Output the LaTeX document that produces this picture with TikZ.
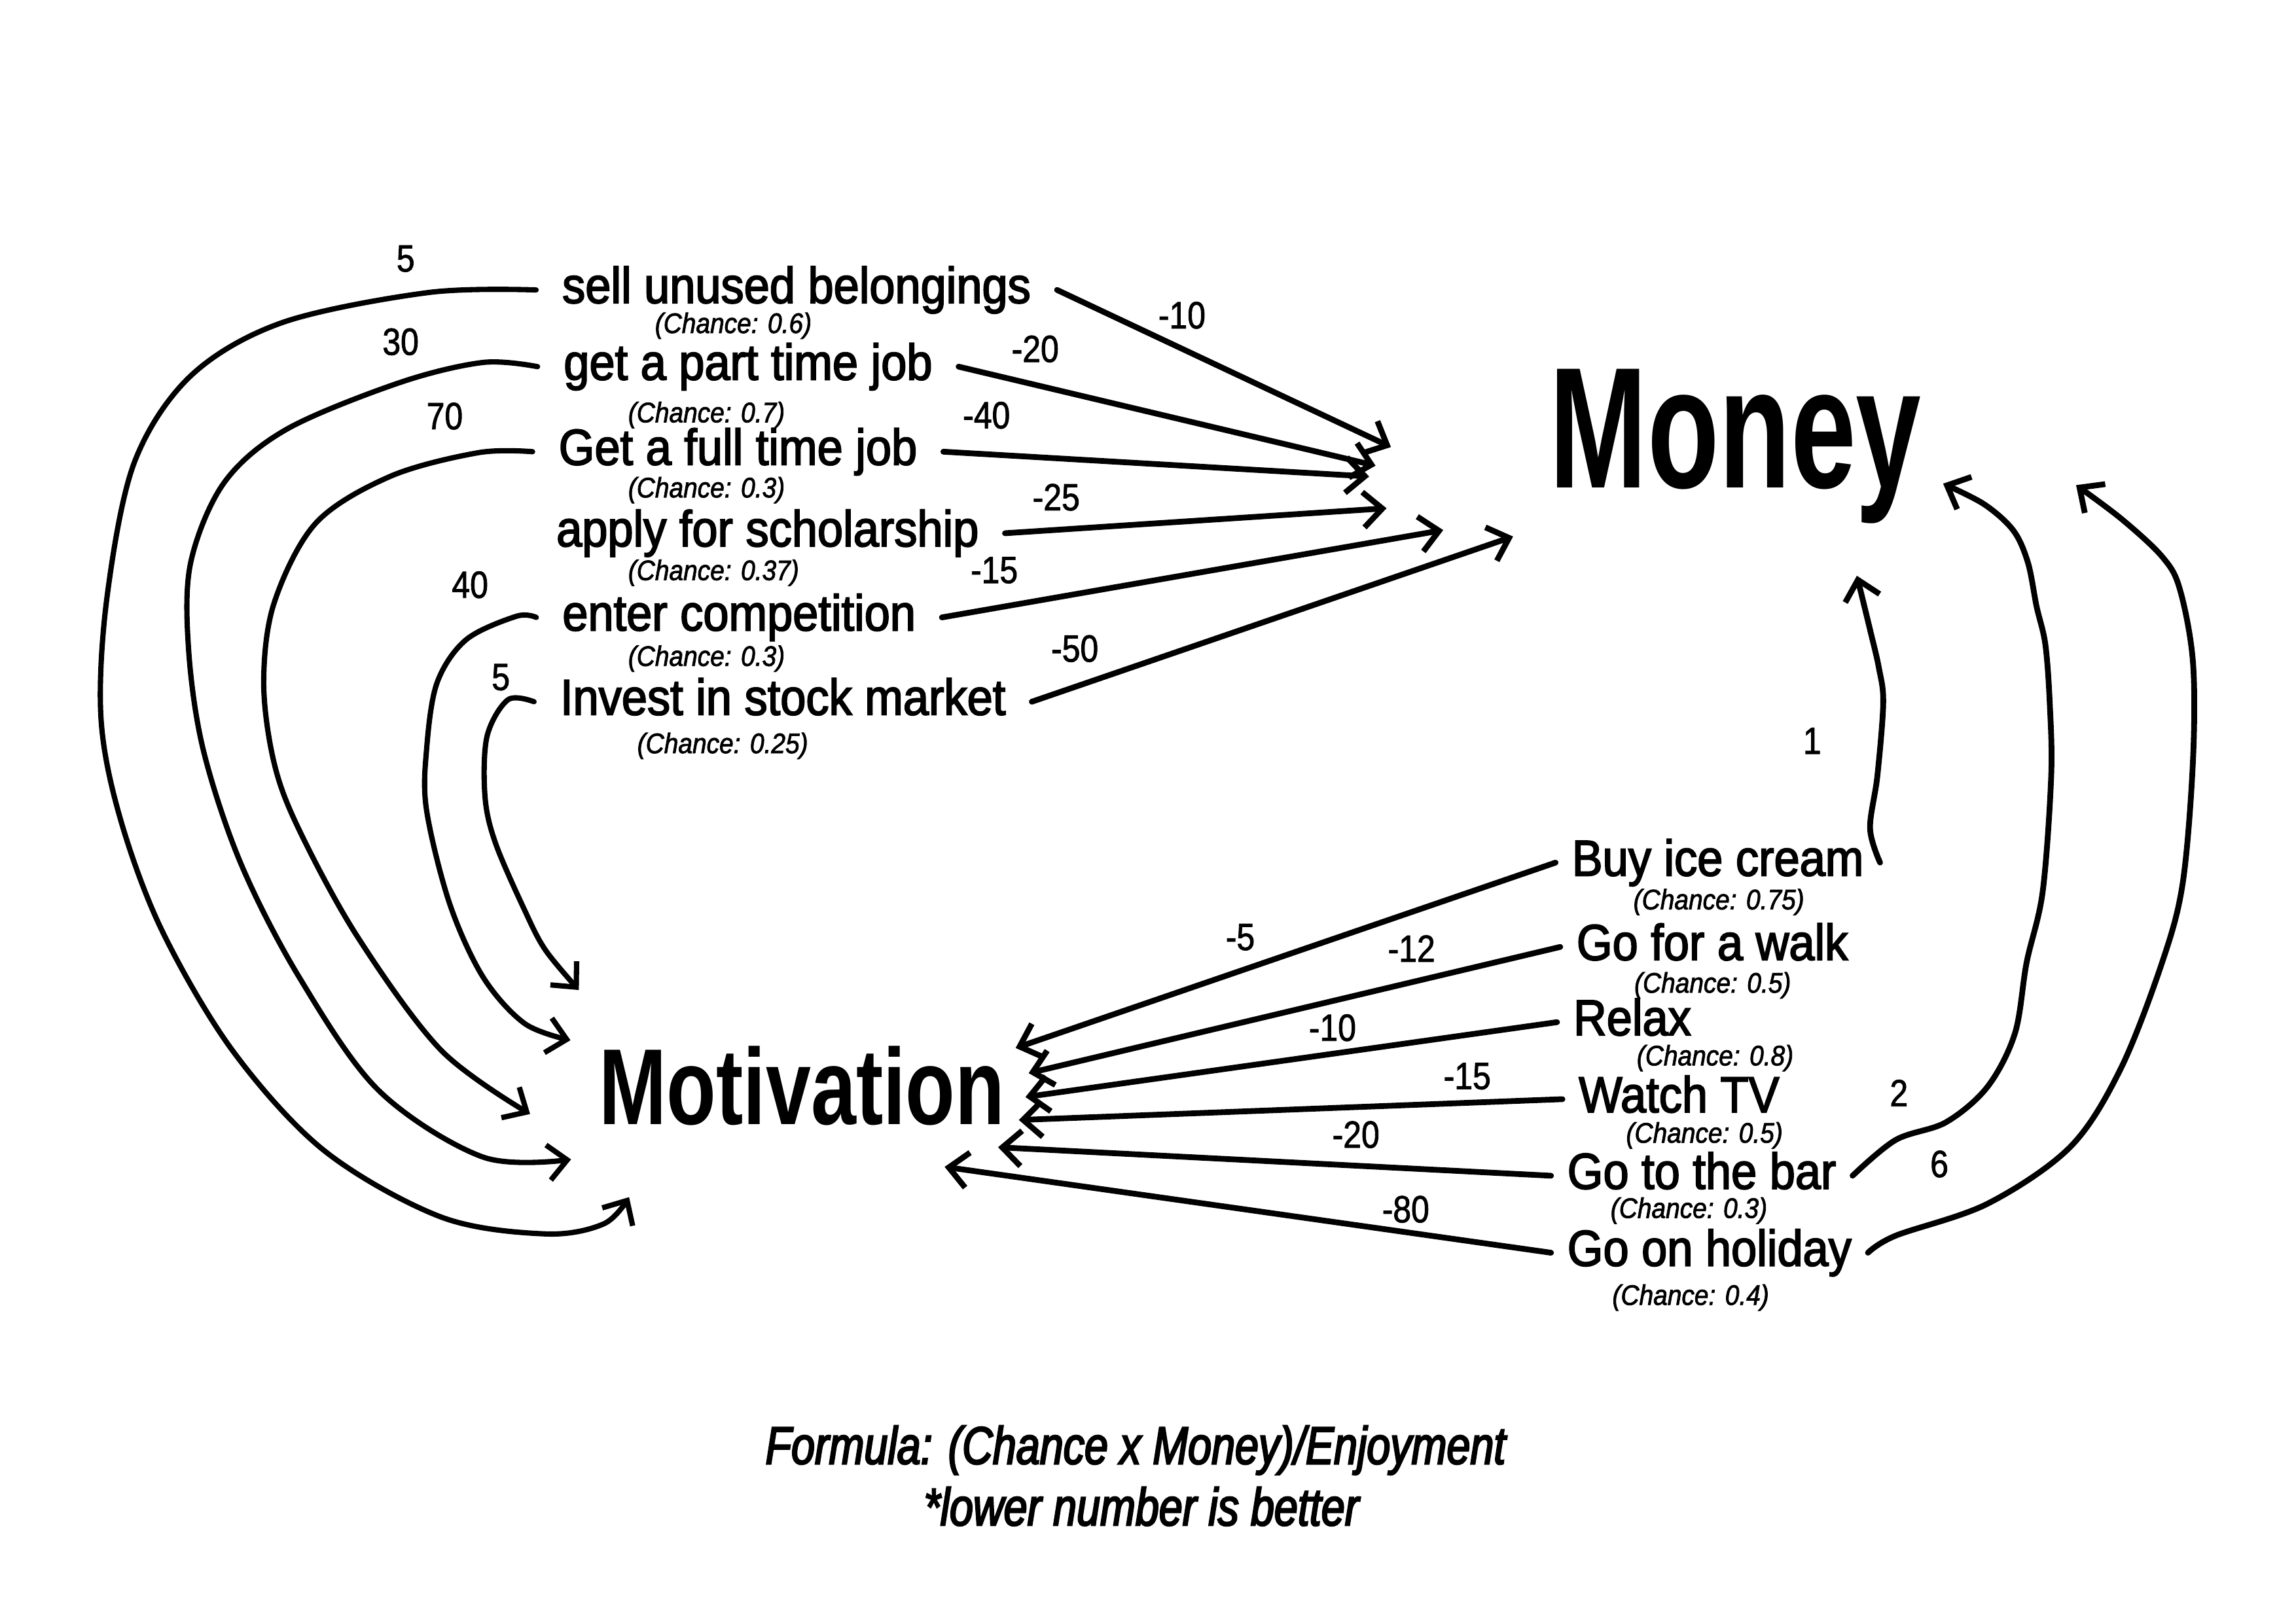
\documentclass[tikz,border=0pt]{standalone}
\usepackage{fontspec}
\setmainfont{Liberation Sans}
\newfontfamily\labf{Liberation Sans}[FakeStretch=0.91,FakeBold=2.5]
\newfontfamily\smallf{Liberation Sans}[FakeStretch=0.9,FakeBold=1.8]
\newfontfamily\numf{Liberation Sans}[FakeStretch=0.86,FakeBold=1.5]
\newfontfamily\monf{Liberation Sans}[FakeStretch=0.68]
\newfontfamily\motf{Liberation Sans}[FakeStretch=0.75]
\newfontfamily\formf{Liberation Sans}[FakeStretch=0.8,FakeBold=3]
\usetikzlibrary{arrows.meta}
\tikzset{
  conn/.style={line width=2.5pt, line cap=round, line join=round,
    -{Straight Barb[length=2.9mm,width=5.4mm]}},
  lconn/.style={conn, line width=2.3pt},
  lbl/.style={inner sep=0pt, anchor=base west, text height=5.6mm, text depth=1.6mm,
    font=\labf\fontsize{22pt}{26pt}\selectfont},
  lleft/.style={lbl, outer xsep=4mm, xshift=-4mm},
  lright/.style={lbl, outer xsep=2.5mm, xshift=-2.5mm},
  chance/.style={inner sep=0pt, anchor=base west, font=\smallf\itshape\fontsize{12.3pt}{14pt}\selectfont},
  num/.style={inner sep=0pt, anchor=base, font=\numf\fontsize{16.5pt}{18pt}\selectfont},
  formula/.style={inner sep=0pt, anchor=base, font=\formf\itshape\fontsize{23pt}{27pt}\selectfont}
}
\begin{document}
\begin{tikzpicture}[x=0.223724mm, y=-0.223724mm]
\useasboundingbox (0,0) rectangle (1568,1109);

% ---- left labels
\node[lleft] (sell)   at (384,207)   {sell unused belongings};
\node[chance] (csell) at (447,227.5) {(Chance: 0.6)};
\node[lleft] (part)   at (385,259.4) {get a part time job};
\node[chance] (cpart) at (428.7,288.5) {(Chance: 0.7)};
\node[lleft] (full)   at (381.6,317.5) {Get a full time job};
\node[chance] (cfull) at (428.7,339.8) {(Chance: 0.3)};
\node[lleft] (schol)  at (380,373.2) {apply for scholarship};
\node[chance] (cschol) at (428.7,396.3) {(Chance: 0.37)};
\node[lleft] (comp)   at (384.1,430.7) {enter competition};
\node[chance] (ccomp) at (428.7,454.9) {(Chance: 0.3)};
\node[lleft] (invest) at (382.6,488.3) {Invest in stock market};
\node[chance] (cinvest) at (434.9,514.5) {(Chance: 0.25)};

% ---- centres
\node[inner sep=0pt, anchor=base west, font=\monf\bfseries\fontsize{75pt}{80pt}\selectfont] (money) at (1058,333) {Money};
\node[inner sep=0pt, anchor=base west, font=\motf\bfseries\fontsize{47pt}{52pt}\selectfont] (motiv) at (409,768) {Motivation};

% ---- right labels
\node[lright] (ice)   at (1073.5,598.2) {Buy ice cream};
\node[chance] (cice)  at (1115.2,621.2) {(Chance: 0.75)};
\node[lright] (walk)  at (1076.7,655.8) {Go for a walk};
\node[chance] (cwalk) at (1115.8,678.1) {(Chance: 0.5)};
\node[lright] (relax) at (1074.5,707.2) {Relax};
\node[chance] (crelax) at (1117.5,727.8) {(Chance: 0.8)};
\node[lright] (tv)    at (1078.2,759.8) {Watch TV};
\node[chance] (ctv)   at (1110.2,780.6) {(Chance: 0.5)};
\node[lright] (bar)   at (1070.4,812.1) {Go to the bar};
\node[chance] (cbar)  at (1099.6,832) {(Chance: 0.3)};
\node[lright] (hol)   at (1070.4,864.7) {Go on holiday};
\node[chance] (chol)  at (1100.8,891.4) {(Chance: 0.4)};

% ---- formula
\node[formula] (f1) at (775.5,1000) {Formula: (Chance x Money)/Enjoyment};
\node[formula] (f2) at (779.5,1042) {*lower number is better};

% ---- arrow end points
\coordinate (m1) at (949.9,305.4);
\coordinate (m2) at (939.4,318.1);
\coordinate (m3) at (935,325.5);
\coordinate (m4) at (946.9,347.2);
\coordinate (m5) at (985.6,362.1);
\coordinate (m6) at (1033.3,366.5);
\coordinate (v1) at (693.6,715.9);
\coordinate (v2) at (702.5,733.1);
\coordinate (v3) at (700.3,749.4);
\coordinate (v4) at (695.8,765.1);
\coordinate (v5) at (681.6,783.7);
\coordinate (v6) at (645.1,797.1);
\coordinate (ts) at (429.6,817.8);
\coordinate (tp) at (390,792);
\coordinate (tf) at (362,761);
\coordinate (tc) at (389.6,710.6);
\coordinate (ti) at (395.3,676.3);
\coordinate (ri) at (1268.1,393.3);
\coordinate (rb) at (1327,330.4);
\coordinate (rh) at (1417.8,331.4);

% ---- straight arrows to Money
\draw[conn] (sell.east) -- (m1);
\draw[conn] (part.east) -- (m2);
\draw[conn] (full.east) -- (m3);
\draw[conn] (schol.east) -- (m4);
\draw[conn] (comp.east) -- (m5);
\draw[conn] (invest.east) -- (m6);

% ---- straight arrows to Motivation
\draw[conn] (ice.west) -- (v1);
\draw[conn] (walk.west) -- (v2);
\draw[conn] (relax.west) -- (v3);
\draw[conn] (tv.west) -- (v4);
\draw[conn] (bar.west) -- (v5);
\draw[conn] (hol.west) -- (v6);

% ---- left curves
\draw[lconn] plot[smooth, tension=0.55] coordinates {(sell.west) (292.8,199.8) (192.9,220.3) (130.2,256.8) (91.7,316) (73.2,407) (68.9,489.5) (81.8,558) (110.3,635) (158.7,717.5) (221.4,786) (301.3,831.4) (372.5,842.9) (412.4,836) (ts)};
\draw[lconn] plot[smooth, tension=0.55] coordinates {(part.west) (329.8,247.6) (272.8,261.4) (195.8,293.2) (153,329.8) (130.2,384.4) (128.8,443.8) (138.8,512.2) (164.4,589.7) (204.3,667.5) (258.5,744.8) (329.8,790.4) (tp)};
\draw[lconn] plot[smooth, tension=0.55] coordinates {(full.west) (326.9,309.2) (267,325.2) (215.8,357.2) (187.2,411.9) (180.1,466.6) (187.2,521.2) (204.3,566.9) (244.2,640) (301.3,717.5) (tf)};
\draw[lconn] plot[smooth, tension=0.55] coordinates {(comp.west) (352.6,421) (318.3,437) (298.4,466.6) (291.3,512.2) (291.3,553.4) (307,617.1) (329.8,667.3) (358.3,699.2) (tc)};
\draw[lconn] plot[smooth, tension=0.55] coordinates {(invest.west) (346.9,478) (332.6,503) (331.2,544) (338.4,576) (358.3,621.8) (372.5,649) (ti)};

% ---- right curves
\draw[conn] plot[smooth, tension=0.55] coordinates {(ice.east) (1277.1,565.9) (1282.1,530) (1286.1,480.1) (1283.1,456.1) (1277.1,430.2) (ri)};
\draw[conn] plot[smooth, tension=0.55] coordinates {(bar.east) (1294.6,778.7) (1329,766.6) (1357.3,742.4) (1376,706) (1384,657.6) (1395,609) (1400.8,530) (1399.8,480.1) (1396.8,440.2) (1390.8,414.2) (1384.9,384.3) (1374.9,362.3) (1354.9,344.4) (rb)};
\draw[conn] plot[smooth, tension=0.55] coordinates {(hol.east) (1294.6,844.1) (1357.3,822.3) (1413.8,783.5) (1448.2,730.2) (1476.5,657.6) (1490.6,603.4) (1497.6,520) (1497.6,452.2) (1488.6,402.3) (1476.6,380.3) (1448.7,354.4) (rh)};

% ---- numbers
\node[num] (n5a) at (277,185.5) {5};
\node[num] (n30) at (273.6,242.4) {30};
\node[num] (n70) at (303.7,293.2) {70};
\node[num] (n40) at (321,408.4) {40};
\node[num] (n5b) at (342,471.4) {5};
\node[num] (nm10) at (807.2,224.3) {-10};
\node[num] (nm20) at (707,247.3) {-20};
\node[num] (nm40) at (673.7,292.6) {-40};
\node[num] (nm25) at (721.3,348.6) {-25};
\node[num] (nm15) at (679,398.3) {-15};
\node[num] (nm50) at (734,452) {-50};
\node[num] (ni1) at (1237.6,515) {1};
\node[num] (ni2) at (1296.8,755.7) {2};
\node[num] (ni6) at (1324.4,804.1) {6};
\node[num] (nr5) at (847,649) {-5};
\node[num] (nr12) at (964,657) {-12};
\node[num] (nr10) at (910,711) {-10};
\node[num] (nr15) at (1002,744) {-15};
\node[num] (nr20) at (926,784) {-20};
\node[num] (nr80) at (960,835) {-80};
\end{tikzpicture}
\end{document}
